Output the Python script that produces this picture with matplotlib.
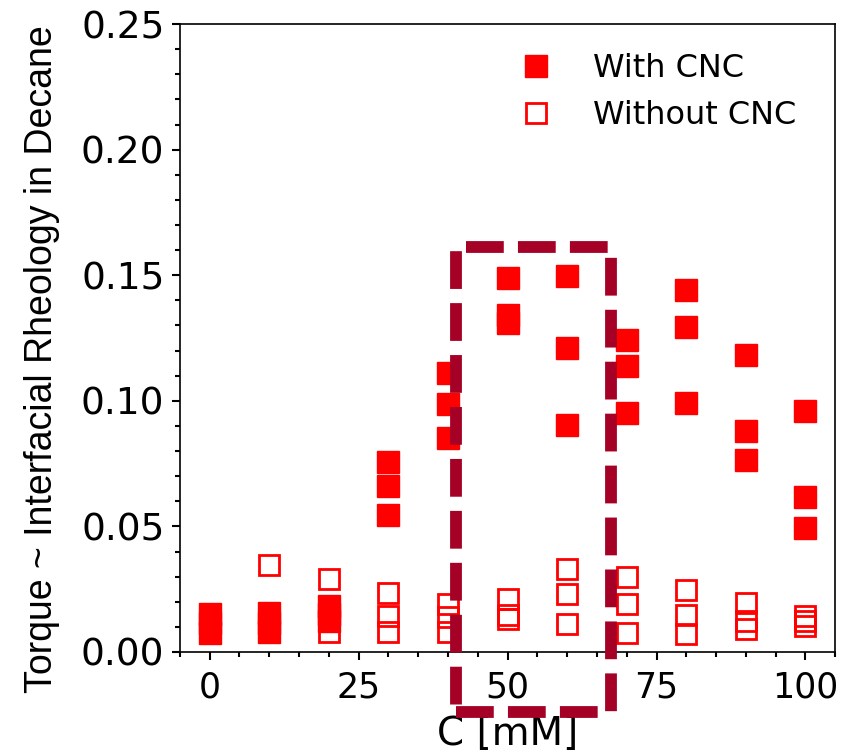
import matplotlib
matplotlib.use('Agg')
import matplotlib.pyplot as plt
from matplotlib.patches import Rectangle
from matplotlib.ticker import MultipleLocator

# concentrations [mM]
conc = [0, 10, 20, 30, 40, 50, 60, 70, 80, 90, 100]

# torque readings, three repeats per concentration
with_cnc = [
    [0.0153, 0.0114, 0.0076],
    [0.0156, 0.0117, 0.0078],
    [0.0184, 0.0152, 0.0123],
    [0.0758, 0.0662, 0.0545],
    [0.1112, 0.0986, 0.0853],
    [0.1487, 0.1340, 0.1309],
    [0.1497, 0.1212, 0.0902],
    [0.1243, 0.1140, 0.0951],
    [0.1442, 0.1294, 0.0992],
    [0.1184, 0.0878, 0.0763],
    [0.0961, 0.0616, 0.0494],
]
without_cnc = [
    [0.0130, 0.0105, 0.0085],
    [0.0346, 0.0120, 0.0085],
    [0.0291, 0.0140, 0.0080],
    [0.0235, 0.0145, 0.0078],
    [0.0192, 0.0140, 0.0078],
    [0.0211, 0.0149, 0.0133],
    [0.0330, 0.0230, 0.0112],
    [0.0297, 0.0190, 0.0076],
    [0.0245, 0.0149, 0.0070],
    [0.0195, 0.0123, 0.0092],
    [0.0145, 0.0123, 0.0103],
]

# highlighted window (x from, x to, y from, y to)
box_x = [41.4, 67.3]
box_y = [-0.0237, 0.1614]

red = '#ff0000'
dark = '#a50026'

fig = plt.figure(figsize=(8.48, 7.52), dpi=100)
ax = fig.add_axes([0.212, 0.133, 0.773, 0.835])

xs_w, ys_w, xs_wo, ys_wo = [], [], [], []
for c, vals in zip(conc, with_cnc):
    xs_w += [c] * len(vals)
    ys_w += vals
for c, vals in zip(conc, without_cnc):
    xs_wo += [c] * len(vals)
    ys_wo += vals

ax.plot(xs_w, ys_w, 's', color=red, ms=15.5, mew=1, label='With CNC', zorder=3)
ax.plot(xs_wo, ys_wo, 's', color=red, mfc='none', ms=14.2, mew=2,
        label='Without CNC', zorder=2)

rect = Rectangle((box_x[0], box_y[0]), box_x[1] - box_x[0], box_y[1] - box_y[0],
                 fill=False, edgecolor=dark, lw=8.5, linestyle=(0, (3.2, 1.2)),
                 clip_on=False, zorder=5)
ax.add_patch(rect)

ax.set_xlim(-5, 105)
ax.set_ylim(0, 0.25)
ax.xaxis.set_major_locator(MultipleLocator(25))
ax.xaxis.set_minor_locator(MultipleLocator(5))
ax.yaxis.set_major_locator(MultipleLocator(0.05))
ax.yaxis.set_minor_locator(MultipleLocator(0.01))
ax.tick_params(which='major', length=6, width=1.5)
ax.tick_params(which='minor', length=3.5, width=1.5)
ax.tick_params(axis='x', which='major', labelsize=25, pad=7)
ax.tick_params(axis='y', which='major', labelsize=27, pad=5)
for s in ax.spines.values():
    s.set_linewidth(1.2)

ax.set_xlabel('C [mM]', fontsize=28, labelpad=8)
ax.set_ylabel('Torque ~ Interfacial Rheology in Decane', fontsize=27,
              family=['Liberation Sans', 'DejaVu Sans'])
ax.yaxis.set_label_coords(-0.183, 0.467)

ax.legend(loc='upper right', bbox_to_anchor=(0.985, 1.0), frameon=False, fontsize=23)

fig.savefig('out.png', dpi=100)
